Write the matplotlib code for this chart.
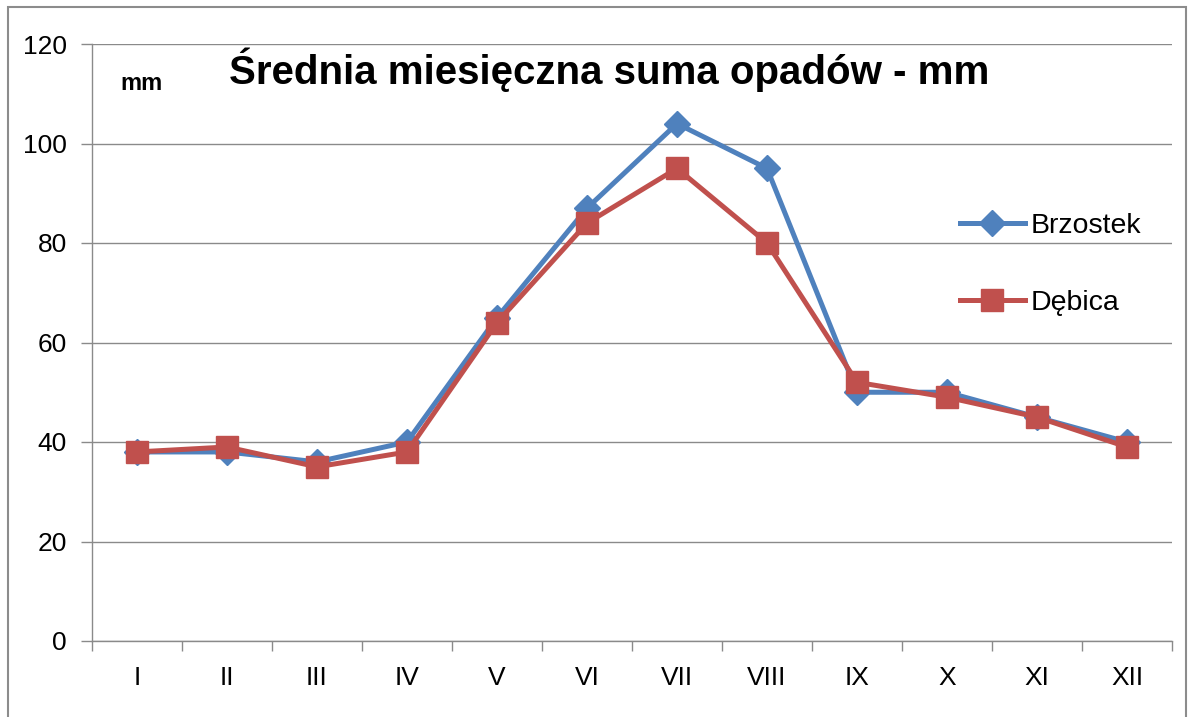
import matplotlib
matplotlib.use("Agg")
import matplotlib.pyplot as plt
import numpy as np

plt.rcParams['font.family'] = ['Liberation Sans', 'DejaVu Sans']

months = ["I", "II", "III", "IV", "V", "VI", "VII", "VIII", "IX", "X", "XI", "XII"]
brzostek = [38, 38, 36, 40, 65, 87, 104, 95, 50, 50, 45, 40]
debica = [38, 39, 35, 38, 64, 84, 95, 80, 52, 49, 45, 39]

W, H = 1192, 717
fig = plt.figure(figsize=(W / 100, H / 100), dpi=100)
fig.patch.set_facecolor("white")

# outer frame
frame = plt.Rectangle((8 / W, -0.02), (1186 - 8) / W, (717 - 7) / H + 0.02,
                      transform=fig.transFigure, fill=False, edgecolor="#8c8c8c", lw=1.5)
fig.patches.append(frame)

left, right = 92 / W, 1172 / W
top, bottom = 1 - 44 / H, 1 - 641 / H
ax = fig.add_axes([left, bottom, right - left, top - bottom])

x = np.arange(len(months))
ax.plot(x, brzostek, color="#4F81BD", lw=3.6, marker="D", markersize=13.5,
        label="Brzostek", zorder=3)
ax.plot(x, debica, color="#C0504D", lw=3.6, marker="s", markersize=16,
        label="Dębica", zorder=4)

ax.set_xlim(-0.5, 11.5)
ax.set_ylim(0, 120)
ax.set_yticks(range(0, 121, 20))
ax.yaxis.grid(True, color="#8a8a8a", lw=1)
ax.set_axisbelow(True)

ax.set_xticks(x)
ax.set_xticklabels(months, fontsize=19)
ax.set_xticks(np.arange(-0.5, 12, 1), minor=True)
ax.tick_params(axis="x", which="major", length=0, pad=18)
ax.tick_params(axis="x", which="minor", length=7, color="#8a8a8a", width=1)
ax.tick_params(axis="y", length=8, color="#8a8a8a", width=1, labelsize=19, pad=10)

for s in ["top", "right"]:
    ax.spines[s].set_visible(False)
for s in ["left", "bottom"]:
    ax.spines[s].set_color("#8a8a8a")
    ax.spines[s].set_linewidth(1)

fig.text(609 / W, 1 - 70 / H, "Średnia miesięczna suma opadów - mm",
         ha="center", va="center", fontsize=29, fontweight="bold")
fig.text(142 / W, 1 - 84 / H, "mm", ha="center", va="center", fontsize=17,
         fontweight="bold")

leg = ax.legend(loc="upper left", bbox_to_anchor=(934 / W, 1 - 187 / H),
                bbox_transform=fig.transFigure, frameon=False, fontsize=20.5,
                handlelength=2.3, labelspacing=1.8, handletextpad=0.2)

fig.savefig("out.png", dpi=100)
